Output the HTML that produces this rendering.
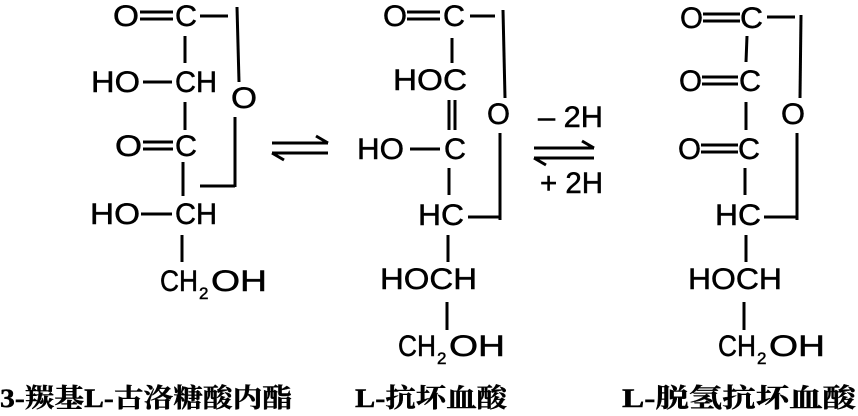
<!DOCTYPE html>
<html><head><meta charset="utf-8"><style>
html,body{margin:0;padding:0;background:#fff}
svg{display:block}
text{font-family:"Liberation Sans",sans-serif;font-size:30px;fill:#000;stroke:#000;stroke-width:0.5}
.s{font-size:17px}
.lb{font-family:"Liberation Serif","Noto Serif CJK SC",serif;font-size:26px;font-weight:bold;stroke-width:0.4}
</style></head><body>
<svg width="858" height="416" viewBox="0 0 858 416" xmlns="http://www.w3.org/2000/svg" stroke="#000" stroke-width="3" fill="none">
<!-- Left molecule -->
<text x="113" y="26" textLength="26" lengthAdjust="spacingAndGlyphs">O</text>
<line x1="140" y1="12" x2="173" y2="12"/><line x1="140" y1="19" x2="173" y2="19"/>
<text x="175" y="26" textLength="22" lengthAdjust="spacingAndGlyphs">C</text>
<line x1="200" y1="16" x2="228" y2="16"/>
<line x1="237" y1="7" x2="239" y2="82"/>
<line x1="185" y1="36" x2="185" y2="63"/>
<text x="91" y="92" textLength="49" lengthAdjust="spacingAndGlyphs">HO</text>
<line x1="143" y1="82" x2="172" y2="82"/>
<text x="175" y="92" textLength="42" lengthAdjust="spacingAndGlyphs">CH</text>
<text x="231" y="108" textLength="26" lengthAdjust="spacingAndGlyphs">O</text>
<line x1="185" y1="102" x2="185" y2="130"/>
<text x="115" y="156" textLength="27" lengthAdjust="spacingAndGlyphs">O</text>
<line x1="143" y1="142" x2="173" y2="142"/><line x1="143" y1="149" x2="173" y2="149"/>
<text x="175" y="156" textLength="22" lengthAdjust="spacingAndGlyphs">C</text>
<line x1="235" y1="117" x2="235" y2="187"/>
<line x1="200" y1="186" x2="235" y2="186"/>
<line x1="183" y1="162" x2="183" y2="196"/>
<text x="90" y="224" textLength="50" lengthAdjust="spacingAndGlyphs">HO</text>
<line x1="141" y1="214" x2="172" y2="214"/>
<text x="175" y="224" textLength="42" lengthAdjust="spacingAndGlyphs">CH</text>
<line x1="182" y1="235" x2="182" y2="262"/>
<text x="160" y="291" textLength="38" lengthAdjust="spacingAndGlyphs">CH</text>
<text class="s" x="199" y="299">2</text>
<text x="211" y="291" textLength="56" lengthAdjust="spacingAndGlyphs">OH</text>
<!-- arrow 1 -->
<line x1="272" y1="143" x2="328" y2="143"/><line x1="328" y1="143" x2="316" y2="136"/>
<line x1="272" y1="153" x2="328" y2="153"/><line x1="272" y1="153" x2="284" y2="160"/>
<!-- Middle molecule -->
<text x="383" y="26" textLength="24" lengthAdjust="spacingAndGlyphs">O</text>
<line x1="407" y1="12" x2="440" y2="12"/><line x1="407" y1="19" x2="440" y2="19"/>
<text x="443" y="26" textLength="22" lengthAdjust="spacingAndGlyphs">C</text>
<line x1="470" y1="16" x2="495" y2="16"/>
<line x1="503" y1="10" x2="505" y2="98"/>
<line x1="452" y1="38" x2="452" y2="63"/>
<text x="393" y="90" textLength="74" lengthAdjust="spacingAndGlyphs">HOC</text>
<line x1="449" y1="100" x2="449" y2="130"/><line x1="455" y1="100" x2="455" y2="130"/>
<text x="487" y="124" textLength="23" lengthAdjust="spacingAndGlyphs">O</text>
<text x="357" y="159" textLength="47" lengthAdjust="spacingAndGlyphs">HO</text>
<line x1="410" y1="149" x2="440" y2="149"/>
<text x="444" y="159" textLength="22" lengthAdjust="spacingAndGlyphs">C</text>
<line x1="500" y1="133" x2="500" y2="220"/>
<line x1="468" y1="217" x2="500" y2="217"/>
<line x1="449" y1="168" x2="449" y2="195"/>
<text x="418" y="225" textLength="46" lengthAdjust="spacingAndGlyphs">HC</text>
<line x1="448" y1="235" x2="448" y2="262"/>
<text x="380" y="289" textLength="97" lengthAdjust="spacingAndGlyphs">HOCH</text>
<line x1="447" y1="302" x2="447" y2="330"/>
<text x="398" y="356" textLength="38" lengthAdjust="spacingAndGlyphs">CH</text>
<text class="s" x="437" y="364">2</text>
<text x="449" y="356" textLength="56" lengthAdjust="spacingAndGlyphs">OH</text>
<!-- arrow 2 -->
<text x="538" y="127" textLength="65" lengthAdjust="spacingAndGlyphs">– 2H</text>
<line x1="534" y1="148" x2="594" y2="148"/><line x1="594" y1="148" x2="582" y2="141"/>
<line x1="534" y1="158" x2="594" y2="158"/><line x1="534" y1="158" x2="546" y2="165"/>
<text x="540" y="193" textLength="63" lengthAdjust="spacingAndGlyphs">+ 2H</text>
<!-- Right molecule -->
<text x="680" y="28" textLength="23" lengthAdjust="spacingAndGlyphs">O</text>
<line x1="703" y1="14" x2="740" y2="14"/><line x1="703" y1="21" x2="740" y2="21"/>
<text x="740" y="28" textLength="23" lengthAdjust="spacingAndGlyphs">C</text>
<line x1="767" y1="17" x2="795" y2="17"/>
<line x1="801" y1="15" x2="800" y2="98"/>
<line x1="747" y1="36" x2="746" y2="62"/>
<text x="679" y="91" textLength="23" lengthAdjust="spacingAndGlyphs">O</text>
<line x1="702" y1="77" x2="738" y2="77"/><line x1="702" y1="84" x2="738" y2="84"/>
<text x="739" y="91" textLength="22" lengthAdjust="spacingAndGlyphs">C</text>
<text x="781" y="124" textLength="24" lengthAdjust="spacingAndGlyphs">O</text>
<line x1="746" y1="102" x2="746" y2="130"/>
<text x="678" y="159" textLength="23" lengthAdjust="spacingAndGlyphs">O</text>
<line x1="701" y1="145" x2="738" y2="145"/><line x1="701" y1="152" x2="738" y2="152"/>
<text x="738" y="159" textLength="22" lengthAdjust="spacingAndGlyphs">C</text>
<line x1="797" y1="133" x2="797" y2="220"/>
<line x1="764" y1="217" x2="797" y2="217"/>
<line x1="745" y1="168" x2="745" y2="195"/>
<text x="715" y="225" textLength="46" lengthAdjust="spacingAndGlyphs">HC</text>
<line x1="746" y1="235" x2="746" y2="262"/>
<text x="688" y="289" textLength="94" lengthAdjust="spacingAndGlyphs">HOCH</text>
<line x1="744" y1="302" x2="744" y2="330"/>
<text x="718" y="356" textLength="38" lengthAdjust="spacingAndGlyphs">CH</text>
<text class="s" x="757" y="364">2</text>
<text x="769" y="356" textLength="56" lengthAdjust="spacingAndGlyphs">OH</text>
<!-- Labels -->
<text class="lb" x="0" y="407" textLength="292" lengthAdjust="spacingAndGlyphs">3-羰基L-古洛糖酸内酯</text>
<text class="lb" x="355" y="407" textLength="152" lengthAdjust="spacingAndGlyphs">L-抗坏血酸</text>
<text class="lb" x="622" y="407" textLength="234" lengthAdjust="spacingAndGlyphs">L-脱氢抗坏血酸</text>
</svg>
</body></html>
